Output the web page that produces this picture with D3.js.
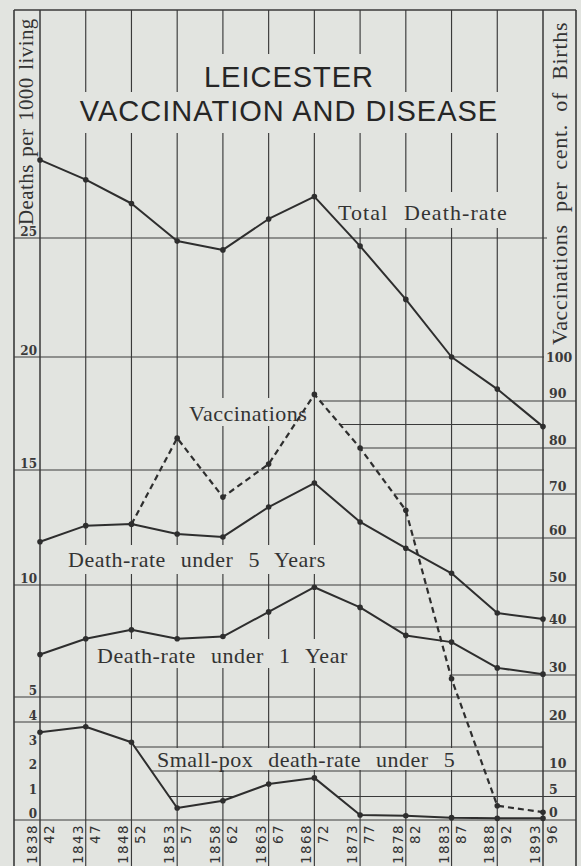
<!DOCTYPE html>
<html><head><meta charset="utf-8">
<script src="https://cdn.jsdelivr.net/npm/d3@7"></script>
<style>
html,body{margin:0;padding:0;background:#e2e4e0;}
svg{display:block;}
</style></head><body>
<svg id="chart" width="581" height="866"></svg>
<script>
// ---------------- DATA ----------------
const years = [1838, 1843, 1848, 1853, 1858, 1863, 1868, 1873, 1878, 1883, 1888, 1893];
const yearLabels = ["1838", "1843", "1848", "1853", "1858", "1863", "1868", "1873", "1878", "1883", "1888", "1893"];
const endLabels = ["42", "47", "52", "57", "62", "67", "72", "77", "82", "87", "92", "96"];
const totalDeathRate = [28.28, 27.45, 26.45, 24.87, 24.5, 25.8, 26.74, 24.66, 22.42, 20.0, 18.58, 16.92];
const under5Rate = [11.88, 12.58, 12.65, 12.22, 12.09, 13.39, 14.43, 12.74, 11.6, 10.51, 8.75, 8.48];
const under1Rate = [6.9, 7.6, 8.0, 7.6, 7.7, 8.8, 9.9, 9.0, 7.75, 7.45, 6.3, 6.02];
const smallpoxUnder5 = [3.59, 3.81, 3.19, 0.51, 0.82, 1.49, 1.73, 0.21, 0.18, 0.10, 0.07, 0.07];
const vaccinations = [null, null, 63.1, 82.1, 69.3, 76.5, 91.5, 80, 66.3, 29.2, 3.1, 1.7];
const leftTicks = [25, 20, 15, 10, 5, 4, 3, 2, 1, 0];
const rightTicks = [100, 90, 80, 70, 60, 50, 40, 30, 20, 10, 5, 0];
const titleLines = ["LEICESTER", "VACCINATION AND DISEASE"];
const leftTitle = "Deaths per 1000 living";
const rightTitle = "Vaccinations per cent. of Births";

// ---------------- SETUP ----------------
const W = 581, H = 866;
const BG = "#e2e4e0", INK = "#2e2e2e", GRID = "#3a3a3a";
const svg = d3.select("#chart");
svg.append("rect").attr("width", W).attr("height", H).attr("fill", BG);

const FL = 14, FR = 576, FT = 10;
const x = d3.scaleLinear().domain([1838, 1893]).range([40, 543]);
const yL = d3.scaleLinear()
  .domain([0, 1, 2, 3, 4, 5, 10, 15, 20, 25])
  .range([820, 796.5, 771, 747, 722, 697, 585, 470, 357, 238]);
const yR = d3.scaleLinear()
  .domain([0, 5, 10, 20, 30, 40, 50, 60, 70, 80, 90, 100])
  .range([820, 797, 771, 723, 675, 627, 585, 538, 494, 448, 401, 357]);

function pts(series, ys) {
  const out = [];
  series.forEach((v, i) => { if (v != null) out.push([x(years[i]), ys(v)]); });
  return out;
}
const pTotal = pts(totalDeathRate, yL);
const pU5 = pts(under5Rate, yL);
const pU1 = pts(under1Rate, yL);
const pSP = pts(smallpoxUnder5, yL);
const pVac = pts(vaccinations, yR);

// last crossing where the curve goes down through pixel Y
function lastDownCross(p, Y) {
  for (let i = p.length - 2; i >= 0; i--) {
    const [x0, y0] = p[i], [x1, y1] = p[i + 1];
    if (y0 <= Y && y1 >= Y && y1 !== y0) return x0 + (Y - y0) / (y1 - y0) * (x1 - x0);
  }
  return p[0][0];
}
// intervals where curve lies below pixel line Y
function intervalsBelow(p, Y) {
  const iv = [];
  for (let i = 0; i < p.length - 1; i++) {
    const [x0, y0] = p[i], [x1, y1] = p[i + 1];
    let a = null, b = null;
    if (y0 > Y && y1 > Y) { a = x0; b = x1; }
    else if (y0 > Y && y1 <= Y) { a = x0; b = x0 + (Y - y0) / (y1 - y0) * (x1 - x0); }
    else if (y0 <= Y && y1 > Y) { a = x0 + (Y - y0) / (y1 - y0) * (x1 - x0); b = x1; }
    if (a != null) {
      if (iv.length && Math.abs(iv[iv.length - 1][1] - a) < 0.01) iv[iv.length - 1][1] = b;
      else iv.push([a, b]);
    }
  }
  return iv;
}

// ---------------- GRID ----------------
const g = svg.append("g").attr("stroke", GRID).attr("stroke-width", 1.15).attr("fill", "none");
function hline(x1, x2, y) { g.append("line").attr("x1", x1).attr("x2", x2).attr("y1", y).attr("y2", y); }
function vline(xx, y1, y2, w) { g.append("line").attr("x1", xx).attr("x2", xx).attr("y1", y1).attr("y2", y2).attr("stroke-width", w || 1.15); }

// frame
vline(FL, FT, H, 1.6); vline(FR, FT, H, 1.6);
g.append("line").attr("x1", FL).attr("x2", FR).attr("y1", FT).attr("y2", FT).attr("stroke-width", 1.6);
// vertical year lines
years.forEach((yr, i) => vline(x(yr), FT, H, (i === 0 || i === years.length - 1) ? 1.5 : 1.15));

// full left-scale lines
[25, 20, 15].forEach(v => hline(FL, x(1893) + (v === 25 ? 4 : 1), yL(v)));
[10, 5, 4, 0].forEach(v => hline(FL, FR, yL(v)));
// small-pox scale lines (drawn where the curve lies below them)
[3, 2, 1].forEach(v => {
  const Y = yL(v);
  intervalsBelow(pSP, Y).forEach(([a, b]) => {
    const end = (b >= x(1893) - 0.5 && v !== 3) ? FR : b;
    hline(a, end, Y);
  });
});
// vaccination scale lines, starting at the falling dashed curve
[90, 80, 70, 60, 30].forEach(v => hline(lastDownCross(pVac, yR(v)), FR, yR(v)));
hline(lastDownCross(pVac, yR(85)), x(1893), yR(85));
hline(lastDownCross(pU1, yR(40)), FR, yR(40));

// ---------------- LABEL BACKGROUNDS + TEXT ----------------
const serif = "'Liberation Serif', 'Times New Roman', serif";
function bgRect(x0, y0, x1, y1) {
  svg.append("rect").attr("x", x0).attr("y", y0).attr("width", x1 - x0).attr("height", y1 - y0).attr("fill", BG);
}
// title
bgRect(196, 54, 382, 92);
bgRect(68, 92, 512, 133);
svg.append("g").selectAll("text").data(titleLines).join("text")
  .attr("x", 289).attr("y", (d, i) => i === 0 ? 87 : 121)
  .attr("text-anchor", "middle")
  .attr("font-family", "'Liberation Sans', Arial, sans-serif")
  .attr("font-size", 29).attr("letter-spacing", 1)
  .attr("fill", "#262626").text(d => d);

const seriesLabels = [
  { t: "Total Death-rate", x: 338, y: 220, ls: 1.1, box: [330, 192, 513, 228] },
  { t: "Vaccinations", x: 189, y: 421, ls: 0.5, box: [185, 398, 309, 426] },
  { t: "Death-rate under 5 Years", x: 68, y: 567, ls: 0.5, box: [62, 545, 336, 574] },
  { t: "Death-rate under 1 Year", x: 97, y: 663, ls: 0.6, box: [91, 639, 354, 668] },
  { t: "Small-pox death-rate under 5", x: 157, y: 767, ls: 0.5, box: [150, 748, 462, 770] }
];
seriesLabels.forEach(d => bgRect(...d.box));
svg.append("g").selectAll("text").data(seriesLabels).join("text")
  .attr("x", d => d.x).attr("y", d => d.y)
  .attr("font-family", serif).attr("font-size", 22)
  .attr("letter-spacing", d => d.ls).attr("word-spacing", 9)
  .attr("fill", "#333").text(d => d.t);

// axis titles
svg.append("text").attr("transform", "translate(33,225) rotate(-90)")
  .attr("font-family", serif).attr("font-size", 21).attr("letter-spacing", 0.4).attr("word-spacing", 2)
  .attr("fill", "#333").text(leftTitle);
svg.append("text").attr("transform", "translate(567,345) rotate(-90)")
  .attr("font-family", serif).attr("font-size", 22).attr("letter-spacing", 0.7).attr("word-spacing", 6)
  .attr("fill", "#333").text(rightTitle);

// tick labels
const tickFont = "'DejaVu Serif', serif";
svg.append("g").selectAll("text").data(leftTicks).join("text")
  .attr("x", 37).attr("y", d => yL(d) - 2.5)
  .attr("text-anchor", "end").attr("font-family", tickFont).attr("font-weight", "bold")
  .attr("font-size", 12).attr("fill", "#3a3a3a").text(d => d);
svg.append("g").selectAll("text").data(rightTicks).join("text")
  .attr("x", d => d === 100 ? 546 : 549).attr("y", d => d === 100 ? yR(d) + 5 : yR(d) - 3)
  .attr("font-family", tickFont).attr("font-weight", "bold")
  .attr("font-size", 12.5).attr("fill", "#3a3a3a").text(d => d);

// year labels (rotated)
const yrG = svg.append("g").attr("font-family", "'DejaVu Sans', sans-serif").attr("font-size", 13.5)
  .attr("letter-spacing", 1.4).attr("fill", "#333").attr("text-anchor", "end");
years.forEach((yr, i) => {
  const xx = x(yr);
  yrG.append("text").attr("transform", `translate(${xx - 3},824) rotate(-90)`).text(yearLabels[i]);
  yrG.append("text").attr("transform", `translate(${xx + 14},824) rotate(-90)`).text(endLabels[i]);
});

// ---------------- DATA LINES ----------------
const line = d3.line();
const dg = svg.append("g");
[pTotal, pU5, pU1, pSP].forEach(p => {
  dg.append("path").attr("d", line(p)).attr("fill", "none").attr("stroke", INK).attr("stroke-width", 2).attr("stroke-linejoin", "round");
});
dg.append("path").attr("d", line(pVac)).attr("fill", "none").attr("stroke", INK)
  .attr("stroke-width", 2.2).attr("stroke-dasharray", "6,4");
[pTotal, pU5, pU1, pSP, pVac].forEach(p => {
  dg.append("g").selectAll("circle").data(p).join("circle")
    .attr("cx", d => d[0]).attr("cy", d => d[1]).attr("r", 2.8).attr("fill", INK);
});
</script>
</body></html>
